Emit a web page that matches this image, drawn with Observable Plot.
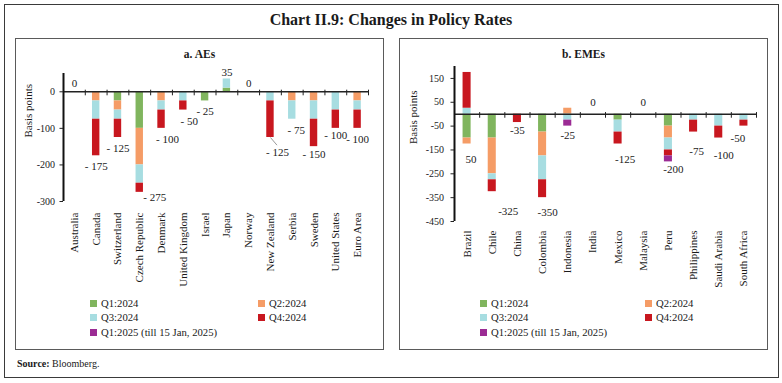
<!DOCTYPE html>
<html><head><meta charset="utf-8">
<script src="https://cdn.jsdelivr.net/npm/d3@7"></script>
<script src="https://cdn.jsdelivr.net/npm/@observablehq/plot@0.6"></script>
<style>
body{margin:0;background:#fff;font-family:"Liberation Serif",serif;color:#1a1a1a;}
#root{position:relative;width:782px;height:383px;overflow:hidden;}
.box{position:absolute;box-sizing:border-box;}
.outer{left:4px;top:4px;width:775px;height:374px;border:1px solid #3a3a3a;}
.panel{top:38px;width:369px;height:312px;border:1px solid #5a5a5a;}
.title{position:absolute;left:0;width:782px;top:10px;text-align:center;font-weight:bold;font-size:16px;line-height:20px;}
.ptitle{position:absolute;width:369px;top:46px;text-align:center;font-weight:bold;font-size:11.5px;line-height:16px;}
.plot{position:absolute;top:62px;}
.leg{position:absolute;font-size:10.7px;line-height:14px;white-space:nowrap;}
.leg i{display:inline-block;width:7px;height:7px;margin-right:4px;vertical-align:0px;}
.src{position:absolute;left:17px;top:357px;font-size:10px;line-height:14px;}
</style></head>
<body><div id="root">
<div class="box outer"></div>
<div class="title">Chart II.9: Changes in Policy Rates</div>
<div class="box panel" style="left:15px"></div>
<div class="box panel" style="left:399px"></div>
<div class="ptitle" style="left:15px">a. AEs</div>
<div class="ptitle" style="left:399px">b. EMEs</div>
<div id="p1" class="plot" style="left:16px"></div>
<div id="p2" class="plot" style="left:400px"></div>
<div id="legends"></div>
<div class="src"><b>Source:</b> Bloomberg.</div>
</div>
<script>
const seriesNames = ["Q1:2024","Q2:2024","Q3:2024","Q4:2024","Q1:2025 (till 15 Jan, 2025)"];
const seriesColors = ["#80b55e","#f59c66","#a7dde1","#c8171f","#9b2b94"];

const aeCats = ["Australia","Canada","Switzerland","Czech Republic","Denmark","United Kingdom","Israel","Japan","Norway","New Zealand","Serbia","Sweden","United States","Euro Area"];
const aeQ1_2024 = [0,0,-25,-100,0,0,-25,10,0,0,0,0,0,0];
const aeQ2_2024 = [0,-25,-25,-100,-25,0,0,0,0,0,-25,-25,0,-25];
const aeQ3_2024 = [0,-50,-25,-50,-25,-25,0,25,0,-25,-50,-50,-50,-25];
const aeQ4_2024 = [0,-100,-50,-25,-50,-25,0,0,0,-100,0,-75,-50,-50];
const aeQ1_2025 = [0,0,0,0,0,0,0,0,0,0,0,0,0,0];
const aeTotals = [0,-175,-125,-275,-100,-50,-25,35,0,-125,-75,-150,-100,-100];
const aeTicks = [-300,-200,-100,0];

const emeCats = ["Brazil","Chile","China","Colombia","Indonesia","India","Mexico","Malaysia","Peru","Philippines","Saudi Arabia","South Africa"];
const emeQ1_2024 = [-100,-100,0,-75,0,0,-25,0,-50,0,0,0];
const emeQ2_2024 = [-25,-150,0,-100,25,0,0,0,-50,0,0,0];
const emeQ3_2024 = [25,-25,0,-100,-25,0,-50,0,-50,-25,-50,-25];
const emeQ4_2024 = [150,-50,-35,-75,0,0,-50,0,-25,-50,-50,-25];
const emeQ1_2025 = [0,0,0,0,-25,0,0,0,-25,0,0,0];
const emeTotals = [50,-325,-35,-350,-25,0,-125,0,-200,-75,-100,-50];
const emeTicks = [-450,-350,-250,-150,-50,50,150];

function buildSegments(cats, seriesArrays){
  const segs = [];
  cats.forEach((c,i)=>{
    let pos=0, neg=0;
    seriesArrays.forEach((arr,s)=>{
      const v = arr[i];
      if (!v) return;
      if (v>0){ segs.push({i, series:seriesNames[s], y1:pos, y2:pos+v}); pos+=v; }
      else { segs.push({i, series:seriesNames[s], y1:neg, y2:neg+v}); neg+=v; }
    });
  });
  return segs;
}
function buildLabels(cats, seriesArrays, totals, fmt, below, above, nudges){
  return cats.map((c,i)=>{
    let pos=0, neg=0;
    seriesArrays.forEach(arr=>{ const v=arr[i]; if(v>0)pos+=v; else neg+=v; });
    const n = nudges[c] || {};
    const isBelow = neg<0;
    return {i, y: isBelow?neg:pos, text: fmt(totals[i]), dx: n.dx||0, dy: n.dy!=null?n.dy:(isBelow?below:above)};
  });
}

const aeNudges = {"Czech Republic":{dx:15,dy:5},"Denmark":{dx:6},"United Kingdom":{dx:6},"New Zealand":{dx:7,dy:15},"Serbia":{dx:4},"Sweden":{dy:8},"United States":{dy:7},"Japan":{dy:-7}};
const emeNudges = {"Brazil":{dx:4,dy:15},"Chile":{dx:16,dy:20},"China":{dy:8},"Colombia":{dx:5,dy:15},"Indonesia":{dy:9},"Mexico":{dx:7,dy:15},"Peru":{dx:5,dy:8},"Philippines":{dx:3,dy:19},"Saudi Arabia":{dx:5,dy:17},"South Africa":{dx:-6,dy:12}};

function makePanel(o){
  const {cats, seriesArrays, totals, fmt, below, above, nudges} = o;
  const labels = buildLabels(cats, seriesArrays, totals, fmt, below, above, nudges);
  const groups = d3.groups(labels, d=>d.dx+"|"+d.dy);
  const labelMarks = groups.map(([k, arr])=>Plot.text(arr, {x:"i", y:"y", text:"text", dx:arr[0].dx, dy:arr[0].dy, fontSize:11, fill:"#1a1a1a"}));
  const n = cats.length;
  const segs = buildSegments(cats, seriesArrays);
  const bounds = d3.range(n).map(i=>i+0.5);
  const m = o.margins;
  const hw = o.halfWidth;
  return Plot.plot({
    width:o.width, height:o.height,
    marginLeft:m[0], marginRight:m[1], marginTop:m[2], marginBottom:m[3],
    style:{fontFamily:"Liberation Serif, serif", fontSize:"10px", color:"#1a1a1a", background:"transparent", overflow:"visible"},
    x:{type:"linear", domain:[-0.5, n-0.5], axis:null},
    y:{domain:o.domain, axis:null},
    color:{domain:seriesNames, range:seriesColors},
    marks:[
      Plot.rect(segs, {x1:d=>d.i-hw, x2:d=>d.i+hw, y1:"y1", y2:"y2", fill:"series"}),
      Plot.ruleY([0], {stroke:"#222", strokeWidth:1.5}),
      Plot.ruleX(bounds, {x:d=>d, y1:o.tickLen*0.4, y2:-o.tickLen, stroke:"#222", strokeWidth:1}),
      Plot.ruleX([-0.5], {stroke:"#111", strokeWidth:2}),
      Plot.axisY(o.ticks, {tickSize:3.5, tickPadding:o.tickGap, tickFormat:d=>String(d), fontSize:10, label:null, stroke:"#222"}),
      Plot.axisX(d3.range(n), {tickFormat:i=>cats[i], tickRotate:-90, tickSize:0, tickPadding:o.catPad, fontSize:11, label:null}),
      Plot.text(["Basis points"], {frameAnchor:"left", dx:-o.ylabOff, rotate:-90, fontSize:11, text:d=>d}),
      ...(o.extra||[]),
      ...labelMarks
    ]
  });
}

const nzIdx = aeCats.indexOf("New Zealand");
const p1 = makePanel({
  cats:aeCats, seriesArrays:[aeQ1_2024,aeQ2_2024,aeQ3_2024,aeQ4_2024,aeQ1_2025], totals:aeTotals,
  ticks:aeTicks, domain:[-300,50], width:366, height:228, margins:[47,14,11,89],
  fmt:v=>v<0?"- "+Math.abs(v):String(v), below:11, above:-8, nudges:aeNudges,
  tickLen:11, tickGap:5, catPad:11, ylabOff:35, halfWidth:0.17,
  extra:[Plot.link([{x1:nzIdx, y1:aeTotals[nzIdx], x2:nzIdx+0.3, y2:aeTotals[nzIdx]-21}], {x1:"x1",y1:"y1",x2:"x2",y2:"y2", stroke:"#9a9a9a", strokeWidth:1})]
});
document.getElementById("p1").appendChild(p1);

const p2 = makePanel({
  cats:emeCats, seriesArrays:[emeQ1_2024,emeQ2_2024,emeQ3_2024,emeQ4_2024,emeQ1_2025], totals:emeTotals,
  ticks:emeTicks, domain:[-450,200], width:367, height:228, margins:[54,11,4,69],
  fmt:v=>String(v), below:14, above:-12, nudges:emeNudges,
  tickLen:17, tickGap:7, catPad:9, ylabOff:41, halfWidth:0.16
});
document.getElementById("p2").appendChild(p2);

const legPos = [
  {left:[90,258], tops:[296,310,325]},
  {left:[480,645], tops:[296,310,325]}
];
const legHost = document.getElementById("legends");
legPos.forEach(lp=>{
  seriesNames.forEach((name,s)=>{
    const row = Math.floor(s/2), col = s%2;
    const d = document.createElement("div");
    d.className="leg";
    d.style.left = lp.left[col]+"px";
    d.style.top = lp.tops[row]+"px";
    d.innerHTML = `<i style="background:${seriesColors[s]}"></i>${name}`;
    legHost.appendChild(d);
  });
});
</script>
</body></html>
